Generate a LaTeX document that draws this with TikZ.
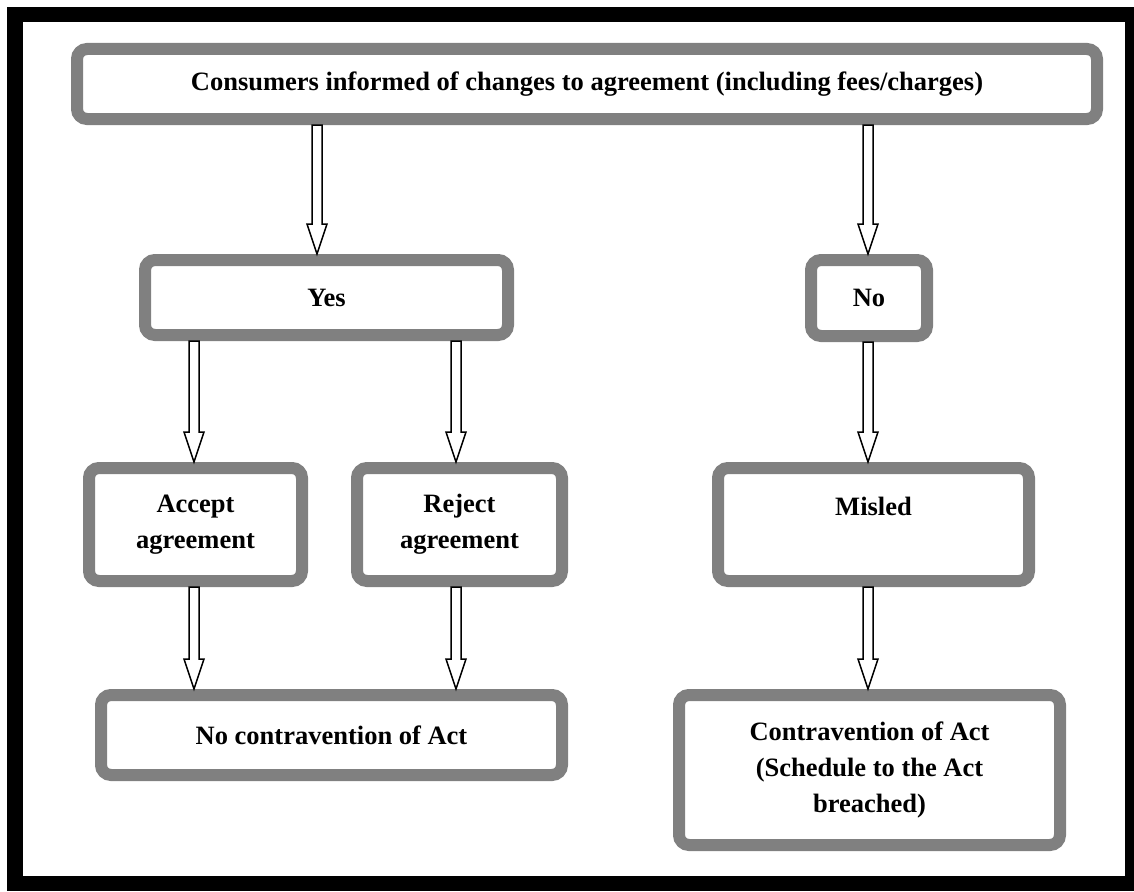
\documentclass[tikz,border=0pt]{standalone}
\usepackage{fontspec}
\setmainfont{Liberation Serif}
\usetikzlibrary{calc}
\definecolor{boxgray}{HTML}{808080}
\tikzset{
  flowbox/.style={draw=boxgray, line width=12pt, rounded corners=10pt, fill=white,
    align=center, inner sep=0pt, font=\fontsize{26.5}{36}\selectfont\bfseries},
  blockarr/.style={draw=black, line width=1.5pt, fill=white, line join=miter}
}
\newcommand\barrow[3]{%
  \draw[blockarr] let \p1=(#2.south), \p2=(#3.north) in
    (#1pt-5pt,\y1) -- (#1pt+5pt,\y1) -- (#1pt+5pt,\y2+30pt) -- (#1pt+10pt,\y2+30pt)
    -- (#1pt,\y2) -- (#1pt-10pt,\y2+30pt) -- (#1pt-5pt,\y2+30pt) -- cycle;}
\begin{document}
\begin{tikzpicture}[x=1pt,y=-1pt]
\useasboundingbox (0,0) rectangle (1134,891);
\fill[black] (7,7) rectangle (1134,891);
\fill[white] (23,22) rectangle (1125,876);

\node[flowbox, minimum width=1020, minimum height=70] (top) at (587,84)
  {Consumers informed of changes to agreement (including fees/charges)};
\node[flowbox, minimum width=363, minimum height=75] (yes) at (326.5,297.5) {Yes};
\node[flowbox, minimum width=116, minimum height=76] (no) at (869,298) {No};
\node[flowbox, minimum width=213, minimum height=113] (accept) at (195.5,524.5) {Accept\\agreement};
\node[flowbox, minimum width=205, minimum height=113] (reject) at (459.5,524.5) {Reject\\agreement};
\node[flowbox, minimum width=311, minimum height=113] (misled) at (873.5,524.5) {Misled\\\mbox{}};
\node[flowbox, minimum width=461, minimum height=80] (nocontra) at (331.5,735) {No contravention of Act};
\node[flowbox, minimum width=381, minimum height=150] (contra) at (869.5,770)
  {Contravention of Act\\(Schedule to the Act\\breached)};

\barrow{317}{top}{yes}
\barrow{868}{top}{no}
\barrow{194}{yes}{accept}
\barrow{456}{yes}{reject}
\barrow{868}{no}{misled}
\barrow{194}{accept}{nocontra}
\barrow{456}{reject}{nocontra}
\barrow{868}{misled}{contra}
\end{tikzpicture}
\end{document}
